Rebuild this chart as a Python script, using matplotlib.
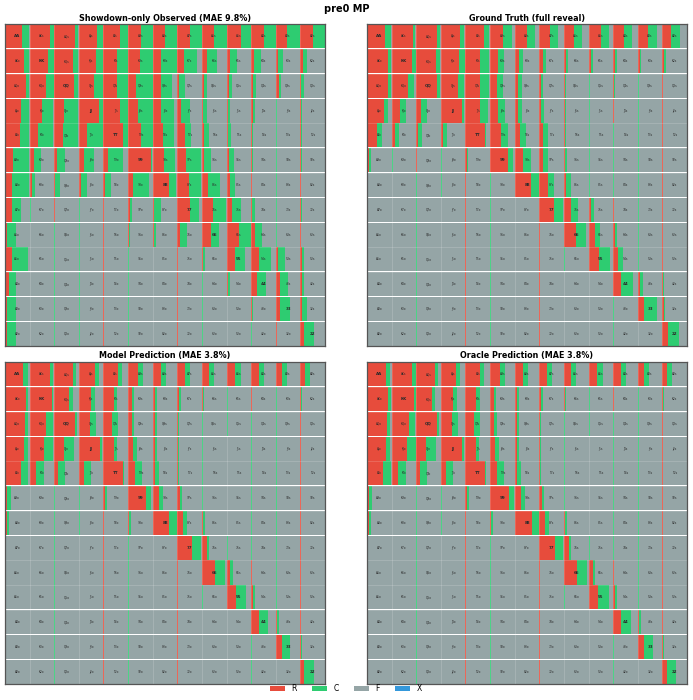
import numpy as np
import matplotlib
matplotlib.use("Agg")
import matplotlib.pyplot as plt
from matplotlib.patches import Patch

RANKS = "AKQJT98765432"
COLORS = {"R": "#e74c3c", "C": "#2ecc71", "F": "#95a5a6", "X": "#3498db"}

# --- action frequencies (%), rows/cols in RANKS order; suited above diagonal ---
showdown_r = [
    [70, 84, 84, 72, 66, 54, 49, 51, 49, 57, 51, 46, 50],
    [78, 76, 76, 68, 54, 47, 35, 27, 19, 14, 11, 11, 11],
    [84, 68, 81, 62, 54, 34, 32, 8, 8, 8, 8, 14, 2],
    [65, 51, 41, 81, 66, 41, 32, 16, 5, 4, 8, 2, 2],
    [59, 35, 35, 32, 80, 54, 41, 30, 8, 5, 2, 2, 2],
    [32, 16, 11, 19, 19, 92, 46, 35, 8, 8, 2, 2, 2],
    [27, 8, 5, 8, 8, 19, 65, 46, 24, 14, 2, 2, 2],
    [27, 2, 2, 1, 1, 8, 5, 50, 43, 22, 5, 2, 2],
    [8, 1, 1, 1, 1, 3, 4, 10, 35, 51, 14, 2, 2],
    [30, 1, 1, 1, 1, 1, 1, 2, 5, 35, 32, 10, 5],
    [16, 1, 1, 1, 1, 1, 1, 1, 1, 5, 22, 19, 5],
    [9, 1, 1, 1, 1, 1, 1, 1, 1, 1, 4, 16, 8],
    [7, 1, 1, 1, 1, 1, 1, 1, 1, 1, 1, 3, 16],
]
showdown_c = [
    [27, 14, 13, 26, 34, 46, 51, 49, 51, 43, 49, 54, 50],
    [20, 22, 22, 30, 46, 53, 62, 54, 43, 30, 27, 19, 16],
    [13, 30, 16, 35, 46, 66, 46, 22, 11, 14, 11, 6, 12],
    [32, 46, 57, 16, 34, 59, 54, 35, 14, 10, 8, 4, 5],
    [38, 62, 62, 65, 20, 46, 46, 27, 19, 14, 5, 4, 4],
    [64, 30, 32, 43, 61, 5, 46, 62, 30, 22, 4, 3, 3],
    [70, 14, 19, 24, 24, 68, 30, 51, 51, 22, 3, 2, 2],
    [40, 4, 3, 2, 2, 6, 30, 40, 54, 38, 12, 3, 3],
    [35, 2, 2, 2, 2, 3, 10, 30, 36, 49, 32, 3, 2],
    [62, 2, 2, 2, 2, 2, 2, 2, 6, 40, 49, 27, 8],
    [28, 2, 2, 2, 2, 2, 2, 2, 2, 7, 40, 30, 8],
    [35, 2, 2, 2, 2, 2, 2, 2, 2, 2, 4, 40, 19],
    [38, 2, 2, 2, 2, 2, 2, 2, 2, 2, 2, 2, 41],
]

truth_r = [
    [72, 85, 86, 76, 76, 54, 49, 43, 40, 49, 43, 42, 36],
    [84, 81, 81, 73, 60, 34, 19, 13, 10, 8, 7, 8, 7],
    [84, 68, 86, 68, 57, 30, 13, 5, 5, 3, 3, 2, 2],
    [68, 32, 19, 85, 60, 32, 14, 8, 3, 2, 2, 2, 2],
    [40, 13, 9, 10, 81, 43, 22, 13, 4, 2, 1, 1, 1],
    [8, 2, 2, 2, 6, 74, 35, 13, 5, 2, 1, 1, 1],
    [2, 1, 1, 1, 1, 1, 65, 35, 10, 2, 1, 1, 1],
    [1, 1, 1, 1, 1, 1, 1, 59, 27, 8, 2, 1, 1],
    [1, 1, 1, 1, 1, 1, 1, 1, 49, 27, 8, 2, 1],
    [1, 1, 1, 1, 1, 1, 1, 1, 1, 41, 19, 2, 1],
    [1, 1, 1, 1, 1, 1, 1, 1, 1, 1, 32, 8, 2],
    [1, 1, 1, 1, 1, 1, 1, 1, 1, 1, 1, 27, 5],
    [1, 1, 1, 1, 1, 1, 1, 1, 1, 1, 1, 1, 23],
]
truth_c = [
    [24, 10, 10, 19, 20, 34, 34, 34, 35, 32, 32, 34, 34],
    [12, 16, 16, 24, 34, 23, 16, 13, 8, 8, 7, 7, 6],
    [13, 24, 10, 27, 40, 22, 16, 8, 5, 4, 3, 3, 2],
    [19, 27, 24, 8, 32, 27, 16, 11, 4, 3, 2, 2, 2],
    [22, 16, 15, 16, 2, 31, 24, 24, 5, 3, 2, 2, 2],
    [10, 4, 3, 3, 5, 20, 30, 24, 8, 3, 2, 2, 1],
    [3, 2, 2, 2, 2, 3, 32, 24, 20, 5, 2, 2, 2],
    [2, 1, 1, 1, 1, 1, 2, 38, 32, 16, 3, 2, 2],
    [2, 1, 1, 1, 1, 1, 1, 2, 40, 19, 8, 3, 2],
    [3, 1, 1, 1, 1, 1, 1, 1, 2, 46, 19, 4, 2],
    [2, 1, 1, 1, 1, 1, 1, 1, 1, 1, 49, 13, 3],
    [2, 1, 1, 1, 1, 1, 1, 1, 1, 1, 1, 49, 7],
    [2, 1, 1, 1, 1, 1, 1, 1, 1, 1, 1, 1, 45],
]

model_r = [
    [74, 84, 77, 65, 60, 41, 32, 30, 27, 35, 30, 24, 19],
    [84, 89, 60, 49, 41, 16, 10, 5, 3, 2, 2, 2, 2],
    [81, 68, 84, 46, 35, 16, 10, 3, 2, 2, 1, 1, 1],
    [76, 59, 41, 85, 41, 19, 8, 2, 1, 1, 1, 1, 1],
    [65, 27, 16, 19, 80, 30, 10, 2, 1, 1, 1, 1, 1],
    [10, 1, 1, 1, 5, 74, 24, 10, 1, 1, 1, 1, 1],
    [8, 1, 1, 1, 1, 4, 68, 22, 6, 1, 1, 1, 1],
    [2, 1, 1, 1, 1, 1, 1, 59, 19, 3, 1, 1, 1],
    [1, 1, 1, 1, 1, 1, 1, 1, 54, 16, 2, 1, 1],
    [2, 1, 1, 1, 1, 1, 1, 1, 1, 38, 8, 1, 1],
    [1, 1, 1, 1, 1, 1, 1, 1, 1, 1, 30, 5, 1],
    [1, 1, 1, 1, 1, 1, 1, 1, 1, 1, 1, 27, 2],
    [1, 1, 1, 1, 1, 1, 1, 1, 1, 1, 1, 1, 16],
]
model_c = [
    [20, 13, 13, 16, 14, 20, 24, 22, 22, 24, 24, 22, 19],
    [10, 8, 16, 16, 16, 8, 8, 8, 4, 4, 3, 3, 3],
    [14, 28, 10, 24, 24, 10, 8, 4, 3, 2, 2, 2, 2],
    [19, 38, 38, 8, 14, 16, 10, 4, 2, 2, 2, 2, 2],
    [30, 30, 27, 30, 3, 27, 14, 4, 2, 2, 2, 2, 2],
    [14, 2, 2, 4, 8, 20, 16, 8, 2, 2, 2, 2, 2],
    [8, 2, 2, 2, 2, 6, 30, 16, 6, 2, 2, 2, 2],
    [4, 1, 1, 1, 1, 1, 2, 38, 10, 4, 2, 2, 2],
    [3, 1, 1, 1, 1, 1, 1, 2, 38, 10, 3, 2, 2],
    [4, 1, 1, 1, 1, 1, 1, 1, 2, 41, 8, 3, 2],
    [3, 1, 1, 1, 1, 1, 1, 1, 1, 1, 38, 8, 2],
    [2, 1, 1, 1, 1, 1, 1, 1, 1, 1, 1, 32, 3],
    [2, 1, 1, 1, 1, 1, 1, 1, 1, 1, 1, 1, 40],
]

oracle_r = [
    [78, 84, 78, 63, 60, 40, 32, 30, 27, 35, 30, 24, 19],
    [86, 89, 63, 51, 41, 16, 10, 5, 3, 2, 2, 2, 2],
    [81, 72, 84, 46, 35, 16, 10, 3, 2, 2, 1, 1, 1],
    [76, 62, 41, 85, 41, 19, 8, 2, 1, 1, 1, 1, 1],
    [65, 27, 16, 19, 80, 30, 10, 2, 1, 1, 1, 1, 1],
    [8, 1, 1, 1, 5, 76, 24, 10, 1, 1, 1, 1, 1],
    [8, 1, 1, 1, 1, 4, 70, 22, 6, 1, 1, 1, 1],
    [2, 1, 1, 1, 1, 1, 1, 62, 19, 3, 1, 1, 1],
    [1, 1, 1, 1, 1, 1, 1, 1, 51, 16, 2, 1, 1],
    [2, 1, 1, 1, 1, 1, 1, 1, 1, 38, 8, 1, 1],
    [1, 1, 1, 1, 1, 1, 1, 1, 1, 1, 30, 5, 1],
    [1, 1, 1, 1, 1, 1, 1, 1, 1, 1, 1, 27, 2],
    [1, 1, 1, 1, 1, 1, 1, 1, 1, 1, 1, 1, 20],
]
oracle_c = [
    [16, 13, 12, 16, 14, 20, 22, 22, 22, 24, 22, 22, 19],
    [10, 8, 12, 16, 16, 8, 8, 8, 4, 4, 3, 3, 3],
    [14, 24, 10, 22, 24, 10, 8, 4, 3, 2, 2, 2, 2],
    [19, 35, 38, 8, 14, 16, 10, 4, 2, 2, 2, 2, 2],
    [32, 32, 27, 30, 3, 27, 14, 4, 2, 2, 2, 2, 2],
    [14, 2, 2, 4, 8, 20, 16, 8, 2, 2, 2, 2, 2],
    [8, 2, 2, 2, 2, 6, 28, 16, 6, 2, 2, 2, 2],
    [4, 1, 1, 1, 1, 1, 2, 35, 10, 4, 2, 2, 2],
    [3, 1, 1, 1, 1, 1, 1, 2, 41, 10, 3, 2, 2],
    [4, 1, 1, 1, 1, 1, 1, 1, 2, 43, 8, 3, 2],
    [3, 1, 1, 1, 1, 1, 1, 1, 1, 1, 41, 8, 2],
    [2, 1, 1, 1, 1, 1, 1, 1, 1, 1, 1, 35, 3],
    [2, 1, 1, 1, 1, 1, 1, 1, 1, 1, 1, 1, 37],
]

panels = [
    ("Showdown-only Observed (MAE 9.8%)", showdown_r, showdown_c),
    ("Ground Truth (full reveal)", truth_r, truth_c),
    ("Model Prediction (MAE 3.8%)", model_r, model_c),
    ("Oracle Prediction (MAE 3.8%)", oracle_r, oracle_c),
]


def hand_label(i, j):
    if i == j:
        return RANKS[i] * 2
    if i < j:
        return RANKS[i] + RANKS[j] + "s"
    return RANKS[j] + RANKS[i] + "o"


def draw_grid(ax, title, r, c):
    r = np.array(r, dtype=float) / 100
    c = np.array(c, dtype=float) / 100
    f = np.clip(1 - r - c, 0, None)
    rows, cols = np.indices(r.shape)
    y = rows.ravel() + 0.5
    left = cols.ravel().astype(float)
    for key, frac in (("R", r), ("C", c), ("F", f)):
        w = frac.ravel()
        ax.barh(y, w, left=left, height=0.97, color=COLORS[key], edgecolor="none")
        left = left + w
    # faint cell separators
    for k in range(1, 13):
        ax.axhline(k, color="white", lw=0.5, alpha=0.22)
        ax.axvline(k, color="white", lw=0.5, alpha=0.22)
    for i in range(13):
        for j in range(13):
            pair = i == j
            ax.text(j + 0.5, i + 0.5, hand_label(i, j), ha="center", va="center",
                    fontsize=2.9 if pair else 2.2, color="#2a2a2a",
                    fontweight="bold" if pair else "normal")
    ax.set_xlim(0, 13)
    ax.set_ylim(13, 0)
    ax.set_xticks([])
    ax.set_yticks([])
    for sp in ax.spines.values():
        sp.set_color("#555555")
        sp.set_linewidth(0.9)
    ax.set_title(title, fontsize=5.8, fontweight="bold", pad=2.5)


fig = plt.figure(figsize=(6.93, 7.0), dpi=100)
boxes = [
    [0.0072, 0.5057, 0.4618, 0.46],
    [0.5296, 0.5057, 0.4618, 0.46],
    [0.0072, 0.0229, 0.4618, 0.46],
    [0.5296, 0.0229, 0.4618, 0.46],
]
for box, (title, r, c) in zip(boxes, panels):
    ax = fig.add_axes(box)
    draw_grid(ax, title, r, c)

fig.suptitle("pre0 MP", fontsize=7, fontweight="bold", y=0.995)
handles = [Patch(facecolor=COLORS[k], label=k) for k in ("R", "C", "F", "X")]
fig.legend(handles=handles, loc="lower center", bbox_to_anchor=(0.499, 0.0), ncol=4,
           frameon=False, fontsize=5.5, handlelength=2.0, handleheight=0.7,
           columnspacing=2.0)

fig.savefig("out.png", dpi=100)
